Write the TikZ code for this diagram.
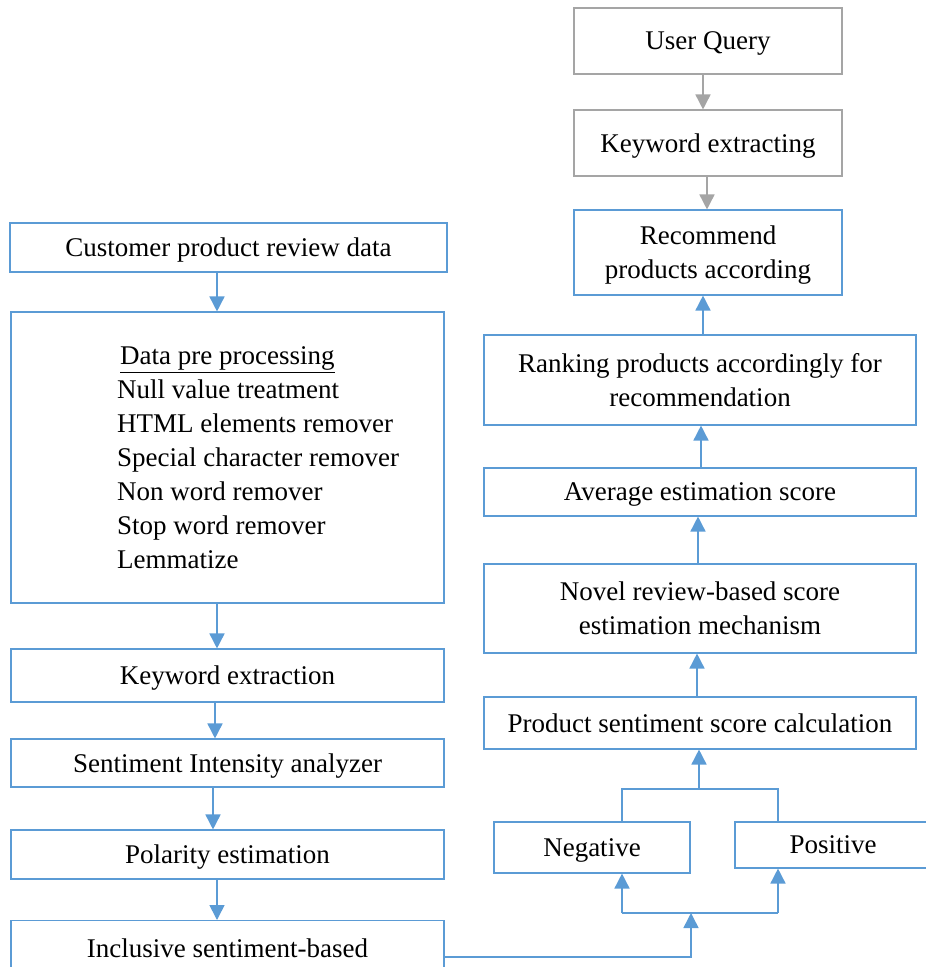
\documentclass[tikz,border=0pt]{standalone}
\usepackage{fontspec}
\setmainfont{Liberation Serif}
\usetikzlibrary{arrows.meta,calc}
\definecolor{flowblue}{RGB}{91,155,213}
\definecolor{flowgrey}{RGB}{165,165,165}

\begin{document}
\begin{tikzpicture}[x=1pt,y=-1pt]
	\tikzstyle{box} = [draw=flowblue, line width=1.1pt, inner sep=0pt, align=center, text depth=0pt, font=\fontsize{27}{34}\selectfont]
	\tikzstyle{greybox} = [box, draw=flowgrey]
	\tikzstyle{txt} = [inner sep=0pt, align=left, font=\fontsize{27}{34}\selectfont]
	\tikzstyle{link} = [draw=flowblue, line width=1.6pt]
	\tikzstyle{flow} = [link, -{Triangle[width=15pt,length=15pt]}]
	\tikzstyle{greyflow} = [flow, draw=flowgrey]
	\useasboundingbox (0,0) rectangle (926,967);
	\clip (0,0) rectangle (926,967);
	% left column
	\node[box, minimum width=437pt, minimum height=49pt] (review) at (228.5,247.5) {Customer product review data};
	\node[box, minimum width=433pt, minimum height=291pt] (prep) at (227.5,457.5) {};
	\node[txt, anchor=west] (preptext) at (117,458) {\hspace{3pt}\underline{Data pre processing}\\Null value treatment\\HTML elements remover\\Special character remover\\Non word remover\\Stop word remover\\Lemmatize};
	\node[box, minimum width=433pt, minimum height=53pt] (kwextract) at (227.5,675.5) {Keyword extraction};
	\node[box, minimum width=433pt, minimum height=48pt] (analyzer) at (227.5,763) {Sentiment Intensity analyzer};
	\node[box, minimum width=433pt, minimum height=49pt] (polarity) at (227.5,854.5) {Polarity estimation};
	\node[box, minimum width=433pt, minimum height=100pt, anchor=north] (inclbox) at (227.5,920) {};
	\node[txt] (inclusive) at (227.5,948) {Inclusive sentiment-based};
	% right column
	\node[greybox, minimum width=268pt, minimum height=66pt] (query) at (708,41) {User Query};
	\node[greybox, minimum width=268pt, minimum height=66pt] (kwextracting) at (708,143) {Keyword extracting};
	\node[box, minimum width=268pt, minimum height=85pt] (recommend) at (708,252.5) {Recommend\\products according};
	\node[box, minimum width=432pt, minimum height=90pt] (ranking) at (700,380) {Ranking products accordingly for\\recommendation};
	\node[box, minimum width=432pt, minimum height=48pt] (average) at (700,492) {Average estimation score};
	\node[box, minimum width=432pt, minimum height=89pt] (novel) at (700,608.5) {Novel review-based score\\estimation mechanism};
	\node[box, minimum width=432pt, minimum height=52pt] (prodscore) at (700,723) {Product sentiment score calculation};
	\node[box, minimum width=196pt, minimum height=51pt] (negative) at (592,847.5) {Negative};
	\node[box, minimum width=196pt, minimum height=46pt] (positive) at (833,845) {Positive};
	\coordinate (negtop) at ([xshift=30pt]negative.north);
	\coordinate (postop) at ([xshift=-55pt]positive.north);
	\coordinate (joinup) at (699,789);
	\coordinate (joindown) at (691,913);
	% left arrows
	\draw[flow] ([xshift=-11.5pt]review.south) -- ([xshift=-11.5pt]review.south |- prep.north);
	\draw[flow] ([xshift=-10.5pt]prep.south) -- ([xshift=-10.5pt]prep.south |- kwextract.north);
	\draw[flow] ([xshift=-12.5pt]kwextract.south) -- ([xshift=-12.5pt]kwextract.south |- analyzer.north);
	\draw[flow] ([xshift=-14.5pt]analyzer.south) -- ([xshift=-14.5pt]analyzer.south |- polarity.north);
	\draw[flow] ([xshift=-10.5pt]polarity.south) -- ([xshift=-10.5pt]polarity.south |- inclbox.north);
	% right arrows
	\draw[greyflow] ([xshift=-5pt]query.south) -- ([xshift=-5pt]query.south |- kwextracting.north);
	\draw[greyflow] ([xshift=-1pt]kwextracting.south) -- ([xshift=-1pt]kwextracting.south |- recommend.north);
	\draw[flow] ([xshift=3pt]ranking.north) -- ([xshift=3pt]ranking.north |- recommend.south);
	\draw[flow] ([xshift=1pt]average.north) -- ([xshift=1pt]average.north |- ranking.south);
	\draw[flow] ([xshift=-2pt]novel.north) -- ([xshift=-2pt]novel.north |- average.south);
	\draw[flow] ([xshift=-3pt]prodscore.north) -- ([xshift=-3pt]prodscore.north |- novel.south);
	% negative / positive
	\draw[link] (negtop) |- (joinup) -| (postop);
	\draw[flow] (joinup) -- (joinup |- prodscore.south);
	\draw[link] (joindown -| negtop) -- (joindown -| postop);
	\draw[flow] (joindown -| negtop) -- (negtop |- negative.south);
	\draw[flow] (joindown -| postop) -- (postop |- positive.south);
	\draw[flow] ($(inclbox.north east)+(0,37)$) -| (joindown);
\end{tikzpicture}
\end{document}
